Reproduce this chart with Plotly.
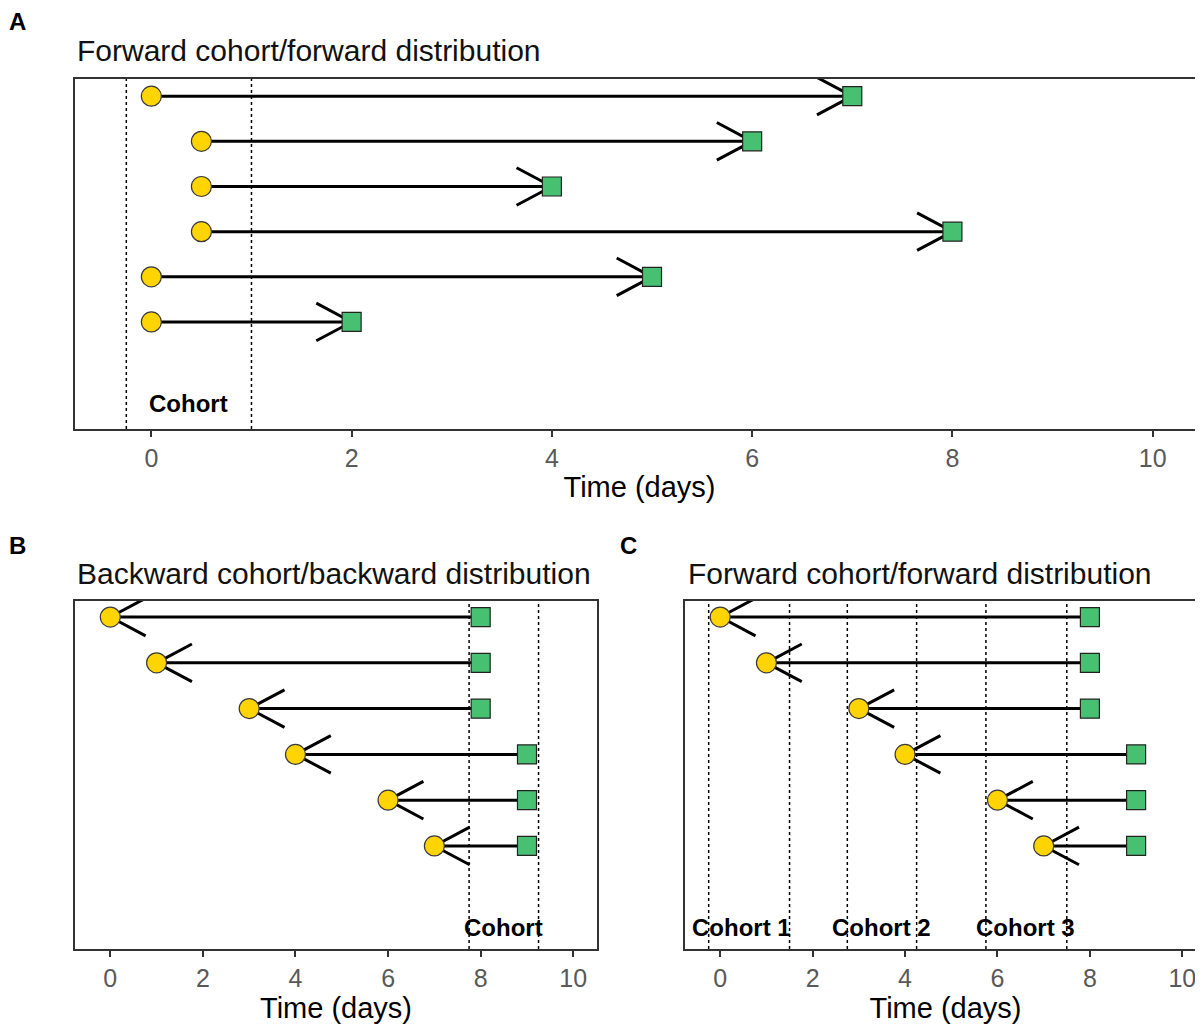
import math
import plotly.graph_objects as go

# ---------------- data ----------------
# Panel A: forward cohort / forward distribution (arrow start -> end)
a_start = [0, 0.5, 0.5, 0.5, 0, 0]
a_end = [7, 6, 4, 8, 5, 2]
a_cohort_lo = [-0.25]
a_cohort_hi = [1.0]
a_cohort_lab = ["Cohort"]
a_cohort_lab_x = [0.375]

# Panel B: backward cohort / backward distribution (arrow end -> start)
b_start = [0, 1, 3, 4, 6, 7]
b_end = [8, 8, 8, 9, 9, 9]
b_cohort_lo = [7.75]
b_cohort_hi = [9.25]
b_cohort_lab = ["Cohort"]
b_cohort_lab_x = [8.5]

# Panel C: forward cohorts on the same data
c_start = [0, 1, 3, 4, 6, 7]
c_end = [8, 8, 8, 9, 9, 9]
c_cohort_lo = [-0.25, 2.75, 5.75]
c_cohort_hi = [1.5, 4.25, 7.5]
c_cohort_lab = ["Cohort 1", "Cohort 2", "Cohort 3"]
c_cohort_lab_x = [0.45, 3.5, 6.6]

x_ticks = [0, 2, 4, 6, 8, 10]
titles = ["Forward cohort/forward distribution",
          "Backward cohort/backward distribution",
          "Forward cohort/forward distribution"]
panel_letters = ["A", "B", "C"]

# ---------------- layout constants ----------------
W, H = 1203, 1026
OFF = 8  # page body margin: figure is drawn 8px right/down in the screenshot
FONT = "Liberation Sans, Arial, sans-serif"
YELLOW = "#FFD400"
GREEN = "#48C072"
BORDER = "#333333"


def fx(px):
    return (px - OFF) / W


def fy(py):
    return 1 - (py - OFF) / H


panels = {
    # positions are given in screenshot pixels
    "A": dict(xpx=(75, 1204), ypx=(79, 429), xr=(-0.7625, 10.5125), yr=(8.37, 0.62), laby=7.81,
              ax="x", ay="y"),
    "B": dict(xpx=(75, 597), ypx=(601, 949), xr=(-0.7625, 10.5125), yr=(8.25, 0.65), laby=7.78,
              ax="x2", ay="y2"),
    "C": dict(xpx=(685, 1206), ypx=(601, 949), xr=(-0.7625, 10.5125), yr=(8.25, 0.65), laby=7.78,
              ax="x3", ay="y3"),
}

data_sets = {
    "A": (a_start, a_end, "forward", a_cohort_lo, a_cohort_hi, a_cohort_lab, a_cohort_lab_x),
    "B": (b_start, b_end, "backward", b_cohort_lo, b_cohort_hi, b_cohort_lab, b_cohort_lab_x),
    "C": (c_start, c_end, "backward", c_cohort_lo, c_cohort_hi, c_cohort_lab, c_cohort_lab_x),
}

ARROW_LEN_PX = 40
ARROW_ANG = math.radians(28)

fig = go.Figure()
shapes = []
annotations = []

for name, p in panels.items():
    start, end, direction, lo, hi, labs, labx = data_sets[name]
    rows = list(range(1, len(start) + 1))
    xpx_per = (p["xpx"][1] - p["xpx"][0]) / (p["xr"][1] - p["xr"][0])
    ypx_per = (p["ypx"][1] - p["ypx"][0]) / (p["yr"][0] - p["yr"][1])
    dx = ARROW_LEN_PX * math.cos(ARROW_ANG) / xpx_per
    dy = ARROW_LEN_PX * math.sin(ARROW_ANG) / ypx_per

    seg_x, seg_y, head_x, head_y = [], [], [], []
    for s, e, r in zip(start, end, rows):
        if direction == "forward":
            tail, tip, sgn = s, e, 1
        else:
            tail, tip, sgn = e, s, -1
        seg_x += [tail, tip, None]
        seg_y += [r, r, None]
        head_x += [tip - sgn * dx, tip, tip - sgn * dx, None]
        head_y += [r - dy, r, r + dy, None]

    fig.add_trace(go.Scatter(x=seg_x, y=seg_y, mode="lines", xaxis=p["ax"], yaxis=p["ay"],
                             line=dict(color="black", width=3), hoverinfo="skip", showlegend=False))
    fig.add_trace(go.Scatter(x=head_x, y=head_y, mode="lines", xaxis=p["ax"], yaxis=p["ay"],
                             line=dict(color="black", width=3), hoverinfo="skip", showlegend=False))
    fig.add_trace(go.Scatter(x=start, y=rows, mode="markers", xaxis=p["ax"], yaxis=p["ay"],
                             marker=dict(symbol="circle", size=20, color=YELLOW,
                                         line=dict(color="#3a3a3a", width=1.2)),
                             showlegend=False))
    fig.add_trace(go.Scatter(x=end, y=rows, mode="markers", xaxis=p["ax"], yaxis=p["ay"],
                             marker=dict(symbol="square", size=19, color=GREEN,
                                         line=dict(color="#222222", width=1.2)),
                             showlegend=False))

    for a, b in zip(lo, hi):
        for xv in (a, b):
            shapes.append(dict(type="line", xref=p["ax"], yref=p["ay"] + " domain",
                               x0=xv, x1=xv, y0=0, y1=1,
                               line=dict(color="black", width=1.5, dash="dot"), layer="above"))
    for t, xv in zip(labs, labx):
        annotations.append(dict(x=xv, y=p["laby"], xref=p["ax"], yref=p["ay"], text="<b>" + t + "</b>",
                                showarrow=False, font=dict(family=FONT, size=24, color="black"),
                                xanchor="center", yanchor="middle"))

# layout axes
layout_axes = {}
for i, (name, p) in enumerate(panels.items()):
    suffix = "" if i == 0 else str(i + 1)
    layout_axes["xaxis" + suffix] = dict(
        domain=[fx(p["xpx"][0]), min(1.0, fx(p["xpx"][1]))], range=list(p["xr"]),
        anchor=p["ay"], tickvals=x_ticks, ticks="outside", ticklen=6, tickwidth=1.5,
        tickcolor=BORDER, showgrid=False, zeroline=False, showline=True, linecolor=BORDER,
        linewidth=1.5, mirror=True,
        tickfont=dict(family=FONT, size=25, color="#595959"),
        title=dict(text="Time (days)", font=dict(family=FONT, size=29, color="black"), standoff=6),
    )
    layout_axes["yaxis" + suffix] = dict(
        domain=[fy(p["ypx"][1]), fy(p["ypx"][0])], range=list(p["yr"]),
        anchor=p["ax"], showticklabels=False, ticks="", showgrid=False, zeroline=False,
        showline=True, linecolor=BORDER, linewidth=1.5, mirror=True,
    )

# titles and panel letters (screenshot pixels)
title_pos = [(75, 50), (75, 573), (686, 573)]
letter_pos = [(17, 21), (17, 545), (628, 545)]
for t, (tx, ty) in zip(titles, title_pos):
    annotations.append(dict(x=fx(tx), y=fy(ty), xref="paper", yref="paper", text=t,
                            showarrow=False, xanchor="left", yanchor="middle",
                            font=dict(family=FONT, size=30, color="#111111")))
for t, (tx, ty) in zip(panel_letters, letter_pos):
    annotations.append(dict(x=fx(tx), y=fy(ty), xref="paper", yref="paper", text="<b>" + t + "</b>",
                            showarrow=False, xanchor="center", yanchor="middle",
                            font=dict(family=FONT, size=24, color="black")))

fig.update_layout(
    width=W, height=H, margin=dict(l=0, r=0, t=0, b=0),
    paper_bgcolor="white", plot_bgcolor="white",
    shapes=shapes, annotations=annotations, showlegend=False,
    **layout_axes,
)

fig.write_html("out.html")
